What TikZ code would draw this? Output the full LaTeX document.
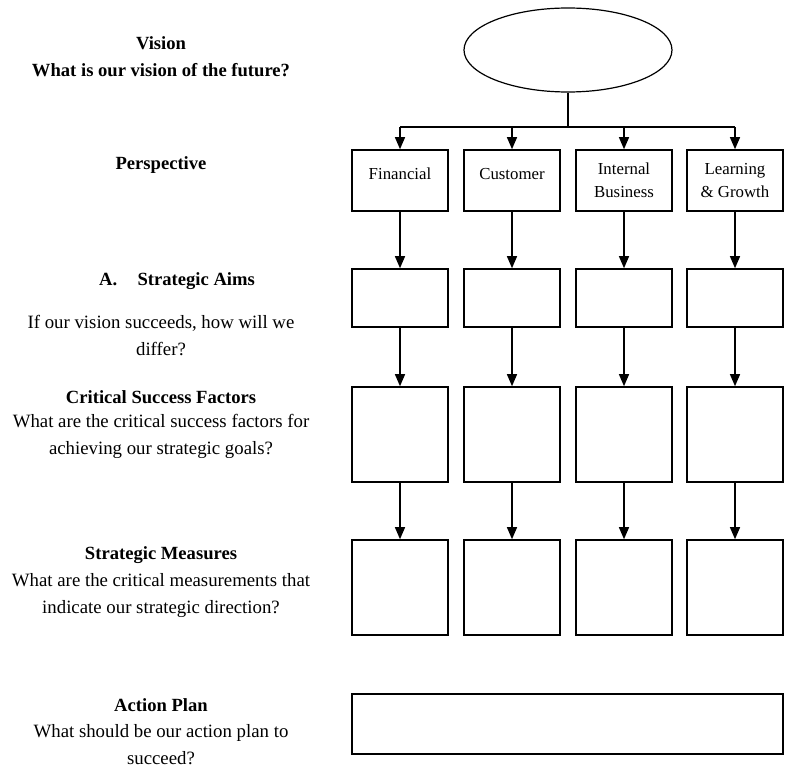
\documentclass[tikz,border=0pt]{standalone}
\usepackage{fontspec}
\setmainfont{Liberation Serif}
\usetikzlibrary{arrows.meta,shapes.geometric}

\tikzset{
  stagebox/.style={draw, line width=1.6pt, minimum width=96pt, inner sep=0pt},
  flow/.style={line width=1.3pt, -{Triangle[length=12pt,width=10pt]}},
  link/.style={line width=1.3pt},
  headtext/.style={align=center, font=\fontsize{18.6}{27}\selectfont\bfseries, inner sep=0pt},
  asktext/.style={align=center, font=\fontsize{18.8}{27}\selectfont, inner sep=0pt},
  boxtext/.style={align=center, font=\fontsize{16.8}{23}\selectfont},
}

\begin{document}
\begin{tikzpicture}[x=1pt, y=-1pt]
\useasboundingbox (0,0) rectangle (787,770);

% vision oval
\node[draw, ellipse, line width=1.2pt, minimum width=208pt, minimum height=84pt, inner sep=0pt] (vision) at (568,50) {};

% columns: perspective, aims, success factors, measures
\foreach \c/\x/\t in {1/400/{Financial\\[-16pt]\strut}, 2/512/{Customer\\[-16pt]\strut}, 3/624/{Internal\\Business}, 4/735/{Learning\\\& Growth}} {
  \node[stagebox, minimum height=61pt, boxtext] (p\c) at (\x,180.5) {\t};
  \node[stagebox, minimum height=58pt] (a\c) at (\x,298) {};
  \node[stagebox, minimum height=95pt] (f\c) at (\x,434.5) {};
  \node[stagebox, minimum height=95pt] (m\c) at (\x,587.5) {};
  \draw[flow] (p\c) -- (a\c);
  \draw[flow] (a\c) -- (f\c);
  \draw[flow] (f\c) -- (m\c);
}

% distribution bus from the vision oval
\coordinate (bus) at (568,127);
\draw[link] (vision.south) -- (bus);
\draw[link] (p1.north |- bus) -- (p4.north |- bus);
\foreach \c in {1,...,4} \draw[flow] (p\c.north |- bus) -- (p\c.north);

% action plan bar
\node[stagebox, minimum width=431pt, minimum height=60pt] (plan) at (567.5,724) {};

% left-hand questions
\node[headtext] (qvision) at (161,57) {Vision\\What is our vision of the future?};
\node[headtext] (qpersp) at (161,165) {Perspective};
\node[headtext] (qaims) at (177,281) {A.\hspace{1.1em}Strategic Aims};
\node[asktext] (qaimsq) at (161,336) {If our vision succeeds, how will we\\differ?};
\node[headtext] (qcsf) at (161,397) {Critical Success Factors};
\node[asktext] (qcsfq) at (161,436) {What are the critical success factors for\\achieving our strategic goals?};
\node[headtext] (qmeas) at (161,555) {Strategic Measures};
\node[asktext] (qmeasq) at (161,596) {What are the critical measurements that\\indicate our strategic direction?};
\node[headtext] (qplan) at (161,705) {Action Plan};
\node[asktext] (qplanq) at (161,745) {What should be our action plan to\\succeed?};
\end{tikzpicture}
\end{document}
